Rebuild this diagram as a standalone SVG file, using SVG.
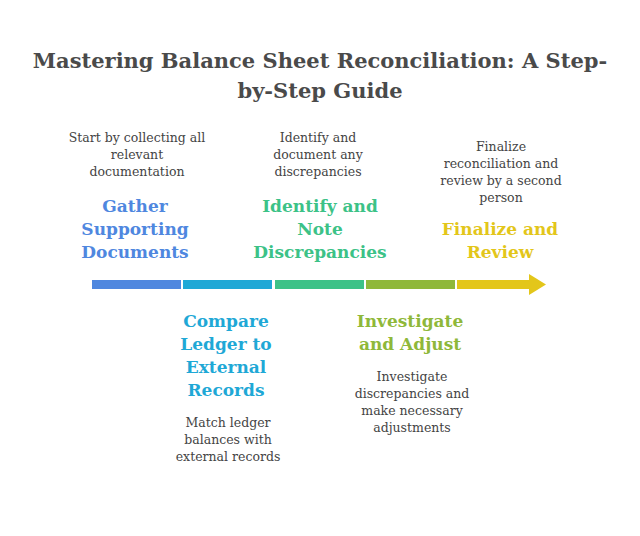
<svg xmlns="http://www.w3.org/2000/svg" width="640" height="536" viewBox="0 0 640 536">
<style>
.t{font-family:"DejaVu Serif",serif;font-weight:bold;font-size:21px;fill:#4a4a4a;text-anchor:middle}
.h{font-family:"DejaVu Serif",serif;font-weight:bold;font-size:17px;text-anchor:middle}
.d{font-family:"DejaVu Serif",serif;font-size:12.5px;fill:#444;text-anchor:middle}
</style>
<rect width="640" height="536" fill="#fff"/>
<text class="t" x="320" y="68">Mastering Balance Sheet Reconciliation: A Step-</text>
<text class="t" x="320" y="98">by-Step Guide</text>
<g id="connectors">
<rect x="92" y="280" width="89" height="9" fill="#4F87DF"/>
<rect x="183" y="280" width="89" height="9" fill="#1FA8D6"/>
<rect x="275" y="280" width="89" height="9" fill="#3CC287"/>
<rect x="366" y="280" width="89" height="9" fill="#8FB83A"/>
<rect x="457" y="280" width="74" height="9" fill="#E3C61A"/>
<polygon points="529,274 546,284.5 529,295" fill="#E3C61A"/>
</g>
<g id="n1">
<text class="d" x="137" y="142">Start by collecting all</text>
<text class="d" x="137" y="159">relevant</text>
<text class="d" x="137" y="176">documentation</text>
<text class="h" fill="#4F87DF" x="135" y="212">Gather</text>
<text class="h" fill="#4F87DF" x="135" y="235">Supporting</text>
<text class="h" fill="#4F87DF" x="135" y="258">Documents</text>
</g>
<g id="n2">
<text class="h" fill="#1FA8D6" x="226" y="327">Compare</text>
<text class="h" fill="#1FA8D6" x="226" y="350">Ledger to</text>
<text class="h" fill="#1FA8D6" x="226" y="373">External</text>
<text class="h" fill="#1FA8D6" x="226" y="396">Records</text>
<text class="d" x="228" y="427">Match ledger</text>
<text class="d" x="228" y="444">balances with</text>
<text class="d" x="228" y="461">external records</text>
</g>
<g id="n3">
<text class="d" x="318" y="142">Identify and</text>
<text class="d" x="318" y="159">document any</text>
<text class="d" x="318" y="176">discrepancies</text>
<text class="h" fill="#3CC287" x="320" y="212">Identify and</text>
<text class="h" fill="#3CC287" x="320" y="235">Note</text>
<text class="h" fill="#3CC287" x="320" y="258">Discrepancies</text>
</g>
<g id="n4">
<text class="h" fill="#8FB83A" x="410" y="327">Investigate</text>
<text class="h" fill="#8FB83A" x="410" y="350">and Adjust</text>
<text class="d" x="412" y="381">Investigate</text>
<text class="d" x="412" y="398">discrepancies and</text>
<text class="d" x="412" y="415">make necessary</text>
<text class="d" x="412" y="432">adjustments</text>
</g>
<g id="n5">
<text class="d" x="501" y="151">Finalize</text>
<text class="d" x="501" y="168">reconciliation and</text>
<text class="d" x="501" y="185">review by a second</text>
<text class="d" x="501" y="202">person</text>
<text class="h" fill="#E3C61A" x="500" y="235">Finalize and</text>
<text class="h" fill="#E3C61A" x="500" y="258">Review</text>
</g>
</svg>
